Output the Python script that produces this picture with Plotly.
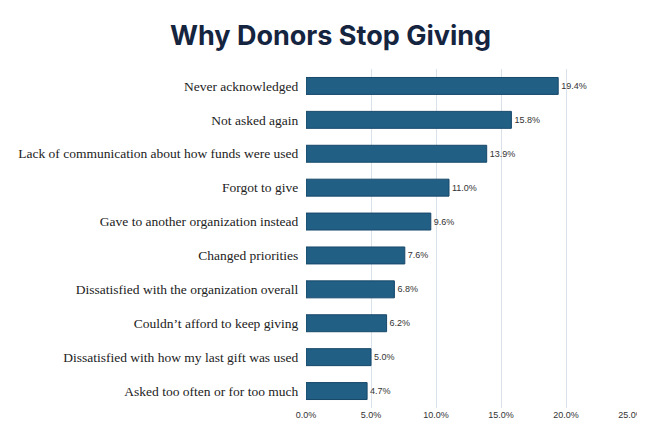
import plotly.graph_objects as go

reasons = [
    "Never acknowledged",
    "Not asked again",
    "Lack of communication about how funds were used",
    "Forgot to give",
    "Gave to another organization instead",
    "Changed priorities",
    "Dissatisfied with the organization overall",
    "Couldn\u2019t afford to keep giving",
    "Dissatisfied with how my last gift was used",
    "Asked too often or for too much",
]
pct = [19.4, 15.8, 13.9, 11.0, 9.6, 7.6, 6.8, 6.2, 5.0, 4.7]
ticks = [0, 5, 10, 15, 20, 25]

fig = go.Figure(go.Bar(
    x=pct, y=reasons, orientation="h", width=0.5,
    marker=dict(color="#215f85", line=dict(color="#17486a", width=1)),
    text=[f"{v:.1f}%" for v in pct], textposition="outside",
    textfont=dict(family="Liberation Sans", size=9, color="#333333"),
    cliponaxis=False,
))

fig.update_layout(
    width=645, height=427,
    margin=dict(l=298, r=22, t=61, b=27, autoexpand=False),
    paper_bgcolor="white", plot_bgcolor="white",
    title=dict(text="<b>Why Donors Stop Giving</b>", x=0.5, xanchor="center", y=0.935, yanchor="middle",
               font=dict(family="Inter", size=27, color="#15243f")),
    showlegend=False,
)
fig.update_xaxes(range=[0, 25], tickvals=ticks, ticktext=[f"{t:.1f}%" for t in ticks],
                 showgrid=True, gridcolor="#d9e2ea", zeroline=False, automargin=False,
                 tickfont=dict(family="Liberation Sans", size=9, color="#333333"))
fig.update_yaxes(autorange="reversed", categoryorder="array", categoryarray=reasons,
                 ticksuffix="  ", automargin=False,
                 tickfont=dict(family="Liberation Serif", size=13.5, color="#222222"))

fig.write_html("out.html")
